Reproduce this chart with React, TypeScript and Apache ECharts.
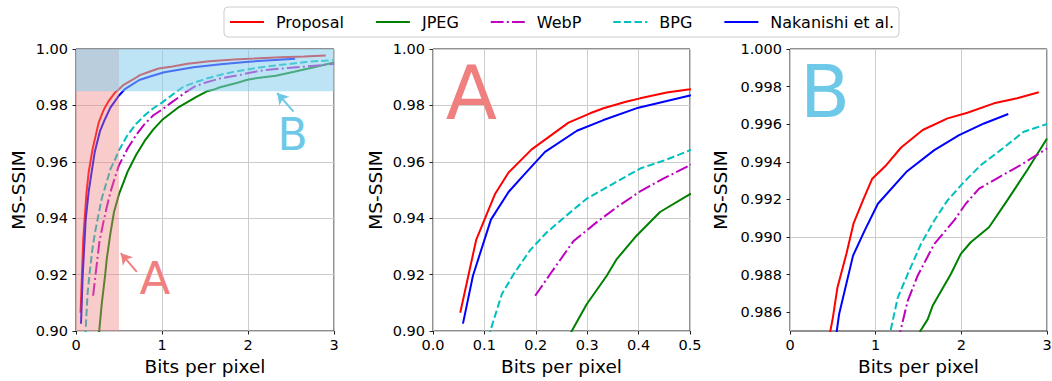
import React, { useEffect, useRef } from "react";
import * as echarts from "echarts";

const FONT = "DejaVu Sans";

const seriesNames = ["Proposal", "JPEG", "WebP", "BPG", "Nakanishi et al."];
const seriesColors = ["#ff0000", "#008000", "#bf00bf", "#00bfbf", "#0000ff"];

const proposalData: number[][] = [
  [0.053, 0.9065], [0.084, 0.9323], [0.121, 0.9487], [0.147, 0.9562], [0.192, 0.9644],
  [0.2215, 0.9683], [0.2636, 0.9739], [0.3057, 0.9772], [0.3316, 0.979], [0.377, 0.9814],
  [0.403, 0.9825], [0.4547, 0.9846], [0.5, 0.9857], [0.554, 0.98732], [0.658, 0.9891],
  [0.743, 0.99074], [0.86, 0.99204], [0.96, 0.9931], [1.123, 0.99382], [1.297, 0.99476],
  [1.549, 0.99569], [1.839, 0.99631], [2.071, 0.99661], [2.381, 0.99711], [2.652, 0.99738],
  [2.904, 0.9977],
];
const jpegData: number[][] = [
  [0.255, 0.895], [0.27, 0.9], [0.299, 0.9095], [0.338, 0.9196], [0.3575, 0.9255],
  [0.396, 0.9338], [0.4417, 0.9422], [0.5, 0.9485], [0.6, 0.9565], [0.7, 0.9625],
  [0.8, 0.9675], [0.9, 0.9715], [1.0, 0.9748], [1.2, 0.9795], [1.4, 0.983],
  [1.521, 0.985], [1.607, 0.98562], [1.665, 0.98634], [1.878, 0.98803], [1.994, 0.9891],
  [2.11, 0.98972], [2.323, 0.99052], [2.536, 0.99195], [2.768, 0.99355], [3.0, 0.99524],
];
const webpData: number[][] = [
  [0.1988, 0.9125], [0.228, 0.9202], [0.273, 0.9318], [0.3187, 0.9386], [0.3575, 0.9439],
  [0.403, 0.9495], [0.448, 0.954], [0.5, 0.9588], [0.6, 0.9647], [0.7, 0.9695],
  [0.8, 0.9735], [0.9, 0.9765], [1.0, 0.9785], [1.1, 0.9808], [1.2, 0.983],
  [1.289, 0.985], [1.374, 0.9866], [1.49, 0.98794], [1.684, 0.98963], [1.916, 0.99088],
  [2.052, 0.99177], [2.207, 0.99257], [2.458, 0.99323], [2.691, 0.99382], [3.0, 0.99471],
];
const bpgData: number[][] = [
  [0.1, 0.894], [0.1114, 0.9], [0.134, 0.9131], [0.157, 0.9202], [0.189, 0.9287],
  [0.2215, 0.935], [0.26, 0.941], [0.299, 0.9469], [0.351, 0.9523], [0.403, 0.9576],
  [0.4547, 0.9608], [0.5, 0.9641], [0.6, 0.9695], [0.7, 0.9735], [0.8, 0.9765],
  [0.9, 0.979], [1.0, 0.981], [1.1, 0.9833], [1.173, 0.985], [1.258, 0.98678],
  [1.374, 0.98803], [1.529, 0.98963], [1.684, 0.99088], [1.839, 0.99195], [2.032, 0.99293],
  [2.226, 0.99382], [2.458, 0.99462], [2.729, 0.9956], [3.0, 0.99601],
];
const nakanishiData: number[][] = [
  [0.0583, 0.9026], [0.0777, 0.9196], [0.1127, 0.9395], [0.147, 0.9493], [0.176, 0.9552],
  [0.218, 0.9635], [0.28, 0.971], [0.3316, 0.9748], [0.3996, 0.9792], [0.5, 0.9835],
  [0.573, 0.98589], [0.736, 0.98901], [0.871, 0.99034], [1.026, 0.99177], [1.367, 0.9935],
  [1.684, 0.99462], [1.974, 0.99542], [2.265, 0.99604], [2.548, 0.99654],
];
const allData = [proposalData, jpegData, webpData, bpgData, nakanishiData];
const dashTypes: any[] = ["solid", "solid", [12.8, 3.2, 2, 3.2], [7.4, 3.2], "solid"];

// axis ranges / ticks
const xRangeFull = [0, 3, 1];
const xRangeA = [0, 0.5, 0.1];
const yRangeFull = [0.9, 1.0, 0.02];
const yRangeB = [0.985, 1.0];
const yTicksB = [0.986, 0.988, 0.99, 0.992, 0.994, 0.996, 0.998, 1.0];

// highlighted regions in panel 1
const regionA = [[0, 0.9], [0.5, 1.0]];
const regionB = [[0, 0.985], [3, 1.0]];
const arrowA = [[0.707, 0.921], [0.521, 0.9276]];
const arrowB = [[2.53, 0.9778], [2.339, 0.9844]];

const SALMON = "#f08080";
const SKY = "#6ec8e8";

const gridBoxes = [
  { left: 76, top: 49, width: 258, height: 282 },
  { left: 433, top: 49, width: 257, height: 282 },
  { left: 790, top: 49, width: 257, height: 282 },
];
const yNameGaps = [48, 48, 60];

function axisCommon() {
  return {
    axisLine: { show: false },
    axisTick: { show: true, inside: false, length: 3.5, lineStyle: { color: "#222", width: 1 } },
    splitLine: { show: true, lineStyle: { color: "#cccccc", width: 1 } },
    nameTextStyle: { fontFamily: FONT, fontSize: 18.5, color: "#000" },
  };
}

export default function App() {
  const ref = useRef<HTMLDivElement>(null);
  useEffect(() => {
    document.body.style.margin = "0";
    const chart = echarts.init(ref.current!, null, { renderer: "svg" });

    const grid = gridBoxes.map((g) => ({
      ...g,
      show: true,
      borderColor: "#222",
      borderWidth: 1,
      backgroundColor: "transparent",
      containLabel: false,
      outerBoundsMode: "none",
    }));

    const xRanges = [xRangeFull, xRangeA, xRangeFull];
    const xAxis = xRanges.map((r, i) => ({
      type: "value",
      gridIndex: i,
      min: r[0],
      max: r[1],
      interval: r[2],
      name: "Bits per pixel",
      nameLocation: "middle",
      nameGap: 24,
      ...axisCommon(),
      axisLabel: {
        fontFamily: FONT,
        fontSize: 14.5,
        color: "#000",
        margin: 6,
        formatter: (v: number) => (i === 1 ? v.toFixed(1) : v.toFixed(0)),
      },
    }));

    const yAxis = [0, 1, 2].map((i) => {
      const base: any = {
        type: "value",
        gridIndex: i,
        name: "MS-SSIM",
        nameLocation: "middle",
        nameGap: yNameGaps[i],
        ...axisCommon(),
        axisLabel: {
          fontFamily: FONT,
          fontSize: 14.5,
          color: "#000",
          margin: 8,
          formatter: (v: number) => (i === 2 ? v.toFixed(3) : v.toFixed(2)),
        },
      };
      if (i < 2) {
        base.min = yRangeFull[0];
        base.max = yRangeFull[1];
        base.interval = yRangeFull[2];
      } else {
        base.min = yRangeB[0];
        base.max = yRangeB[1];
        base.splitLine = { show: false };
        base.axisTick = { ...base.axisTick, customValues: yTicksB };
        base.axisLabel = { ...base.axisLabel, customValues: yTicksB };
      }
      return base;
    });

    const series: any[] = [];
    // horizontal grid lines for panel B (only at the labelled ticks)
    series.push({
      type: "line",
      name: "__gridB",
      xAxisIndex: 2,
      yAxisIndex: 2,
      data: [[0, 0.5]],
      symbol: "none",
      clip: true,
      z: 1,
      markLine: {
        z: 1,
        silent: true,
        symbol: ["none", "none"],
        label: { show: false },
        lineStyle: { color: "#cccccc", width: 1, type: "solid" },
        data: yTicksB.map((v) => ({ yAxis: v })),
      },
    });
    for (let g = 0; g < 3; g++) {
      seriesNames.forEach((name, k) => {
        series.push({
          type: "line",
          name,
          xAxisIndex: g,
          yAxisIndex: g,
          data: allData[k],
          symbol: "none",
          showSymbol: false,
          clip: true,
          z: 2,
          lineStyle: { color: seriesColors[k], width: 2, type: dashTypes[k] },
          itemStyle: { color: seriesColors[k] },
        });
      });
    }
    series.push({
      type: "line",
      name: "__overlay",
      xAxisIndex: 0,
      yAxisIndex: 0,
      data: [[0, 0.5]],
      symbol: "none",
      clip: true,
      z: 5,
      markArea: {
        z: 10,
        silent: true,
        data: [
          [
            { coord: regionA[0], itemStyle: { color: "rgba(240,128,128,0.4)" } },
            { coord: regionA[1] },
          ],
          [
            { coord: regionB[0], itemStyle: { color: "rgba(135,206,235,0.55)" } },
            { coord: regionB[1] },
          ],
        ],
      },
      markLine: {
        z: 11,
        silent: true,
        symbol: ["none", "arrow"],
        symbolSize: [10, 11],
        label: { show: false },
        data: [
          [
            { coord: arrowA[0], lineStyle: { color: SALMON, width: 2, type: "solid" } },
            { coord: arrowA[1] },
          ],
          [
            { coord: arrowB[0], lineStyle: { color: SKY, width: 2, type: "solid" } },
            { coord: arrowB[1] },
          ],
        ],
      },
    });

    const letter = (text: string, x: number, y: number, size: number, color: string) => ({
      type: "text",
      x,
      y,
      z: 20,
      style: {
        text,
        fill: color,
        fontFamily: FONT,
        fontSize: size,
        textAlign: "center",
        textVerticalAlign: "middle",
        verticalAlign: "middle",
      },
    });

    chart.setOption({
      animation: false,
      legend: {
        data: seriesNames,
        left: 224,
        top: 7,
        padding: [7, 5, 7, 5],
        itemWidth: 34,
        itemHeight: 14,
        itemGap: 31,
        borderColor: "#cccccc",
        borderWidth: 1,
        borderRadius: 4,
        itemStyle: { opacity: 0 },
        textStyle: { fontFamily: FONT, fontSize: 16, color: "#000", padding: [0, 0, 0, 7] },
      },
      grid,
      xAxis,
      yAxis,
      series,
      graphic: [
        letter("A", 155, 278.5, 45, SALMON),
        letter("B", 292.5, 134, 44, SKY),
        letter("A", 471.5, 92.5, 75, SALMON),
        letter("B", 825, 91.7, 73, SKY),
      ],
    });
    return () => chart.dispose();
  }, []);
  return <div ref={ref} style={{ width: 1052, height: 381 }} />;
}
